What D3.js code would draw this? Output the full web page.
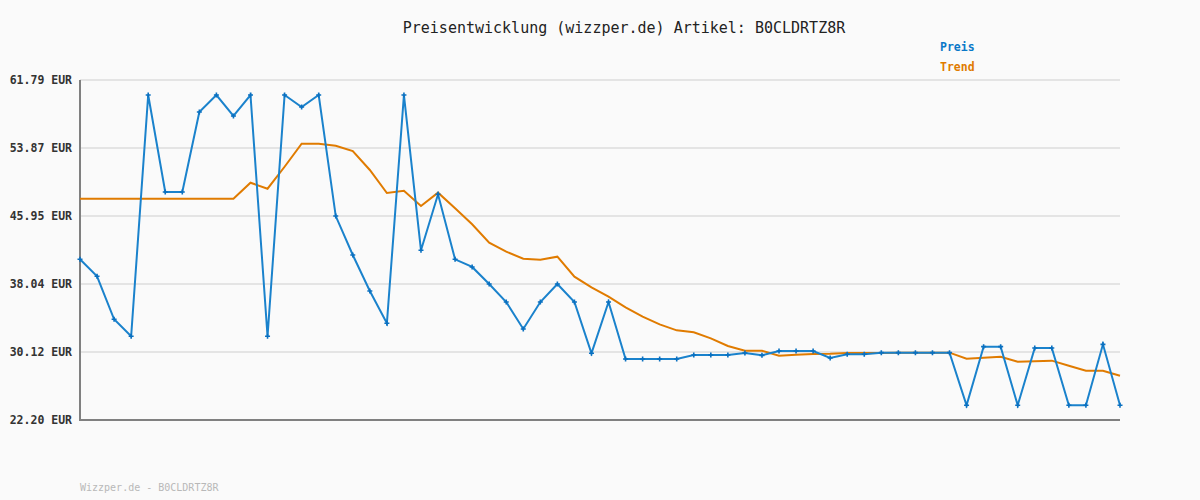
<!DOCTYPE html>
<html>
<head>
<meta charset="utf-8">
<script src="https://cdn.jsdelivr.net/npm/d3@7"></script>
<style>
  body { margin: 0; background: #fafafa; }
  text { font-family: "DejaVu Sans Mono", monospace; }
</style>
</head>
<body>
<script>
'use strict';

var width = 1200, height = 500;

// price per observation (EUR)
var preis = [40.91, 38.93, 33.93, 31.95, 60.04, 48.75, 48.75, 58.06, 60.04, 57.60,
  60.04, 31.95, 60.04, 58.65, 60.04, 45.95, 41.41, 37.22, 33.46, 60.04,
  41.96, 48.48, 40.91, 40.02, 38.04, 35.94, 32.80, 35.94, 38.04, 35.94,
  29.97, 35.94, 29.30, 29.30, 29.30, 29.30, 29.77, 29.77, 29.77, 30.00,
  29.73, 30.23, 30.23, 30.23, 29.42, 29.85, 29.85, 30.04, 30.04, 30.04,
  30.04, 30.04, 23.91, 30.74, 30.74, 23.91, 30.58, 30.58, 23.91, 23.91,
  31.01, 23.91];

var trend = [47.97, 47.97, 47.97, 47.97, 47.97, 47.97, 47.97, 47.97, 47.97, 47.97,
  49.83, 49.13, 51.69, 54.37, 54.37, 54.14, 53.52, 51.31, 48.63, 48.90,
  47.12, 48.67, 46.85, 44.99, 42.85, 41.80, 40.98, 40.87, 41.22, 38.89,
  37.65, 36.56, 35.32, 34.23, 33.34, 32.64, 32.41, 31.71, 30.82, 30.27,
  30.27, 29.69, 29.80, 29.89, 29.92, 30.00, 30.00, 30.00, 30.02, 30.04,
  30.04, 30.04, 29.34, 29.46, 29.57, 28.99, 29.03, 29.11, 28.52, 27.94,
  27.94, 27.36];

var yTicks = [22.20, 30.12, 38.04, 45.95, 53.87, 61.79];

var titel = "Preisentwicklung (wizzper.de) Artikel: B0CLDRTZ8R";
var fusszeile = "Wizzper.de - B0CLDRTZ8R";
var legende = [["Preis", "#0a78c8"], ["Trend", "#e07b00"]];

var svg = d3.select("body").append("svg")
  .attr("width", width)
  .attr("height", height)
  .style("background", "#fafafa");

var x = d3.scaleLinear().domain([0, preis.length - 1]).range([80, 1120]);
var y = d3.scaleLinear().domain([22.20, 61.79]).range([420, 80]);

// grid
svg.append("g").selectAll("line")
  .data(yTicks.slice(1))
  .enter().append("line")
  .attr("x1", 80).attr("x2", 1120)
  .attr("y1", function(d) { return y(d); })
  .attr("y2", function(d) { return y(d); })
  .attr("stroke", "#e4e4e4")
  .attr("stroke-width", 2);

// y labels
var yAxis = d3.axisLeft(y).tickValues(yTicks).tickSize(0).tickPadding(8)
  .tickFormat(function(d) { return d.toFixed(2) + " EUR"; });
var ga = svg.append("g").attr("transform", "translate(80,0)").call(yAxis);
ga.select(".domain").remove();
ga.selectAll("text")
  .style("font-family", "'DejaVu Sans Mono', monospace")
  .style("font-size", "11.5px")
  .style("font-weight", "bold")
  .attr("fill", "#333");

// axis lines
svg.append("line").attr("x1", 80).attr("x2", 80).attr("y1", 80).attr("y2", 421)
  .attr("stroke", "#808080").attr("stroke-width", 2);
svg.append("line").attr("x1", 79).attr("x2", 1120).attr("y1", 420).attr("y2", 420)
  .attr("stroke", "#808080").attr("stroke-width", 2);

var line = d3.line()
  .x(function(d, i) { return x(i); })
  .y(function(d) { return y(d); });

svg.append("path").datum(trend)
  .attr("d", line)
  .attr("fill", "none")
  .attr("stroke", "#e07b00")
  .attr("stroke-width", 2);

svg.append("path").datum(preis)
  .attr("d", line)
  .attr("fill", "none")
  .attr("stroke", "#1a82cc")
  .attr("stroke-width", 2);

// point markers (small crosses)
var m = svg.append("g").selectAll("g")
  .data(preis)
  .enter().append("g")
  .attr("transform", function(d, i) { return "translate(" + x(i) + "," + y(d) + ")"; });
m.append("path")
  .attr("d", "M-2.5,0H2.5M0,-2.5V2.5")
  .attr("stroke", "#0a70c0")
  .attr("stroke-width", 1.6);

// title
svg.append("text")
  .attr("x", 624).attr("y", 33)
  .attr("text-anchor", "middle")
  .style("font-size", "15px")
  .attr("fill", "#222")
  .text(titel);

// legend
svg.append("g").selectAll("text")
  .data(legende)
  .enter().append("text")
  .attr("x", 940)
  .attr("y", function(d, i) { return 51 + i * 20; })
  .style("font-size", "11.5px")
  .style("font-weight", "bold")
  .attr("fill", function(d) { return d[1]; })
  .text(function(d) { return d[0]; });

// footer
svg.append("text")
  .attr("x", 80).attr("y", 491)
  .style("font-size", "10px")
  .attr("fill", "#b8b8b8")
  .text(fusszeile);
</script>
</body>
</html>
